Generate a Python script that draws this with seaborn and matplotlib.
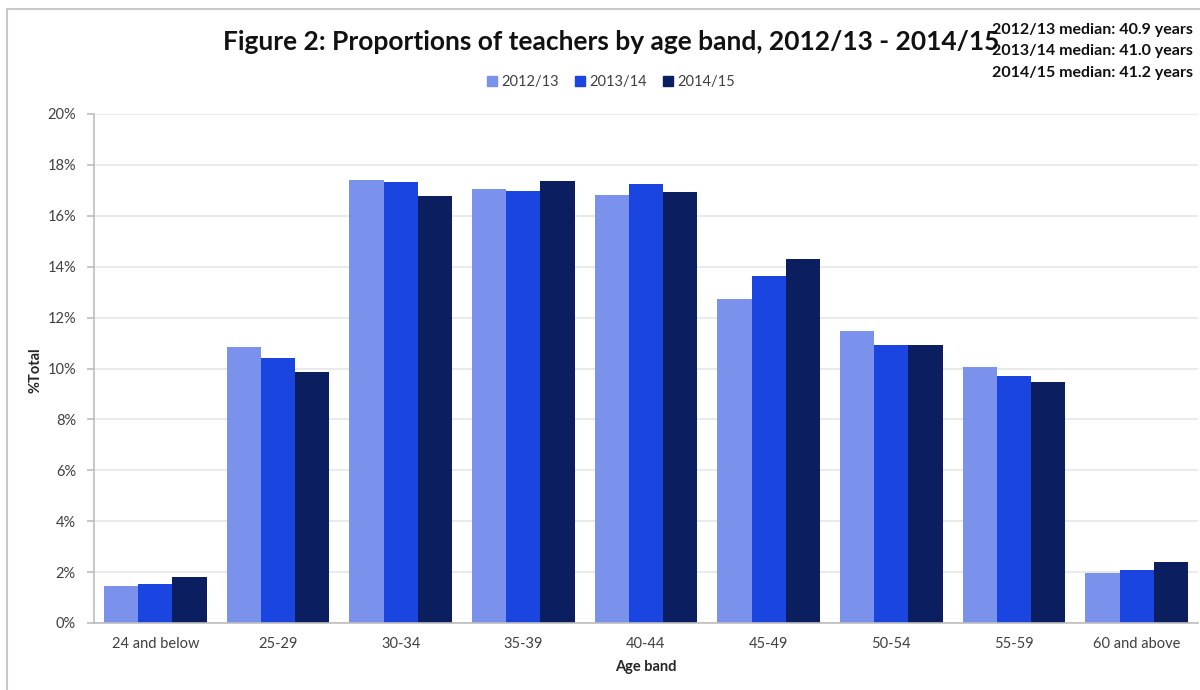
import pandas as pd
import matplotlib
matplotlib.use("Agg")
import matplotlib.pyplot as plt
from matplotlib.ticker import PercentFormatter, FixedLocator
from matplotlib.patches import Rectangle
import seaborn as sns

# Data (% of total teachers)
age_bands = ['24 and below', '25-29', '30-34', '35-39', '40-44',
             '45-49', '50-54', '55-59', '60 and above']
years = ['2012/13', '2013/14', '2014/15']
pct_2012 = [1.44, 10.83, 17.42, 17.06, 16.83, 12.75, 11.48, 10.06, 1.98]
pct_2013 = [1.53, 10.42, 17.33, 16.98, 17.24, 13.63, 10.92, 9.72, 2.10]
pct_2014 = [1.82, 9.88, 16.78, 17.36, 16.92, 14.32, 10.92, 9.47, 2.38]
medians = ['40.9', '41.0', '41.2']

colors = ['#7B92EC', '#1B45E0', '#0B1E60']

df = pd.DataFrame({
    'Age band': age_bands * 3,
    'Year': [y for y in years for _ in age_bands],
    'pct': pct_2012 + pct_2013 + pct_2014,
})

sns.set_style("white")
plt.rcParams['font.family'] = ['Lato', 'DejaVu Sans']

fig = plt.figure(figsize=(12, 6.9), dpi=100)
ax = fig.add_axes([94 / 1200, 1 - 623 / 690, 1104 / 1200, 509 / 690])

sns.barplot(data=df, x='Age band', y='pct', hue='Year', palette=colors,
            order=age_bands, hue_order=years, width=0.835, gap=0,
            edgecolor='none', linewidth=0, saturation=1, ax=ax, legend=False)

ax.set_ylim(0, 20)
ax.set_xlim(-0.5, len(age_bands) - 0.5)
ax.set_yticks(range(0, 21, 2))
ax.yaxis.set_major_formatter(PercentFormatter(decimals=0))
ax.grid(axis='y', color='#E6E6E6', linewidth=1.2)
ax.set_axisbelow(True)

for s in ['top', 'right']:
    ax.spines[s].set_visible(False)
for s in ['left', 'bottom']:
    ax.spines[s].set_color('#BDBDBD')
    ax.spines[s].set_linewidth(1.2)

# ticks at category boundaries on x
ax.tick_params(axis='x', which='major', length=0, pad=10, labelsize=10.5, colors='#404040')
ax.xaxis.set_minor_locator(FixedLocator([i - 0.5 for i in range(len(age_bands) + 1)]))
ax.tick_params(axis='x', which='minor', length=5, color='#BDBDBD', width=1.2)
ax.tick_params(axis='y', length=5, color='#BDBDBD', width=1.2, pad=8,
               labelsize=10.5, labelcolor='#404040', left=True)

ax.set_xlabel('Age band', fontsize=10.5, fontweight='bold')
ax.set_ylabel('%Total', fontsize=10.5, fontweight='bold')
ax.xaxis.set_label_coords(0.5, -(667 - 623) / 509)
ax.yaxis.set_label_coords(-(94 - 36) / 1104, (623 - 370) / 509)
ax.xaxis.label.set_va('center')
ax.yaxis.label.set_va('center')

fig.text(611 / 1200, 1 - 42 / 690, 'Figure 2: Proportions of teachers by age band, 2012/13 - 2014/15',
         ha='center', va='center', fontsize=19, fontweight='bold', color='#111111')

handles = [Rectangle((0, 0), 1, 1, color=c) for c in colors]
fig.legend(handles, years, loc='center', bbox_to_anchor=(611 / 1200, 1 - 82 / 690),
           ncol=3, frameon=False, fontsize=10.5, handlelength=0.7, handleheight=0.7,
           handletextpad=0.3, columnspacing=1.1, labelcolor='#404040')

for i, (y, m) in enumerate(zip(years, medians)):
    fig.text(1193 / 1200, 1 - (30 + 21.5 * i) / 690, f'{y} median: {m} years',
             ha='right', va='center', fontsize=11.5, fontweight='bold', color='#111111')

# outer chart frame
fig.patches.append(Rectangle((7 / 1200, -0.02), 1.05, 1 - 9 / 690 + 0.02, transform=fig.transFigure,
                             fill=False, edgecolor='#C8C8C8', linewidth=1.5))

fig.savefig('out.png', dpi=100)
